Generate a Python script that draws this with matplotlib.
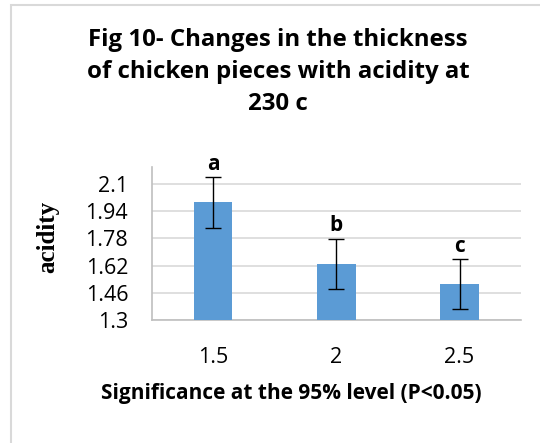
import matplotlib
matplotlib.use("Agg")
import matplotlib.pyplot as plt
from matplotlib.patches import Rectangle

# data
categories = ["1.5", "2", "2.5"]
acidity = [1.99, 1.63, 1.51]
errors = [0.147, 0.145, 0.146]
letters = ["a", "b", "c"]
yticks = [1.3, 1.46, 1.62, 1.78, 1.94, 2.1]

plt.rcParams['font.family'] = ['Open Sans', 'DejaVu Sans']

fig = plt.figure(figsize=(5.4, 4.43), dpi=100)
# chart border (only left/top visible in the crop)
fig.patches.append(Rectangle((11 / 540, -0.1), 1.2, 1 - 5 / 443 + 0.1,
                             transform=fig.transFigure, fill=False,
                             edgecolor="#d9d9d9", linewidth=1.5))

ax = fig.add_axes([0.281, 0.277, 0.684, 0.347])
x = list(range(len(categories)))
ax.bar(x, acidity, width=0.31, color="#5b9bd5", zorder=3)
ax.errorbar(x, acidity, yerr=errors, fmt="none", ecolor="black",
            elinewidth=1, capsize=6, capthick=1, zorder=4)
for xi, v, e, t in zip(x, acidity, errors, letters):
    ax.annotate(t, (xi, v + e), xytext=(0, 2), textcoords="offset points",
                ha="center", va="bottom", fontsize=15, fontweight="bold")

ax.set_xlim(-0.5, 2.5)
ax.set_ylim(1.3, 2.2)
ax.set_yticks(yticks)
ax.set_yticklabels([str(t) for t in yticks], fontsize=15.5)
ax.set_xticks(x)
ax.set_xticklabels(categories, fontsize=15.5)
ax.tick_params(axis="y", length=0, pad=17)
ax.tick_params(axis="x", length=0, pad=19)
ax.yaxis.grid(True, color="#d9d9d9", linewidth=1.2, zorder=0)
for s in ["top", "right"]:
    ax.spines[s].set_visible(False)
for s in ["left", "bottom"]:
    ax.spines[s].set_color("#bfbfbf")
    ax.spines[s].set_linewidth(1.2)

# axis titles are centred on the chart area, not on the plot
fig.text(291 / 540, 1 - 393 / 443, "Significance at the 95% level (P<0.05)",
         ha="center", va="center", fontsize=15, fontweight="bold")
fig.text(48 / 540, 1 - 237 / 443, "acidity", rotation=90, ha="center",
         va="center", fontsize=18, fontweight="bold",
         family=["Liberation Serif", "DejaVu Serif"])

fig.text(278 / 540, 1 - 72 / 443,
         "Fig 10- Changes in the thickness\nof chicken pieces with acidity at\n230 c",
         ha="center", va="center", fontsize=17.3, fontweight="bold",
         linespacing=1.42)

fig.savefig("out.png", dpi=100)
